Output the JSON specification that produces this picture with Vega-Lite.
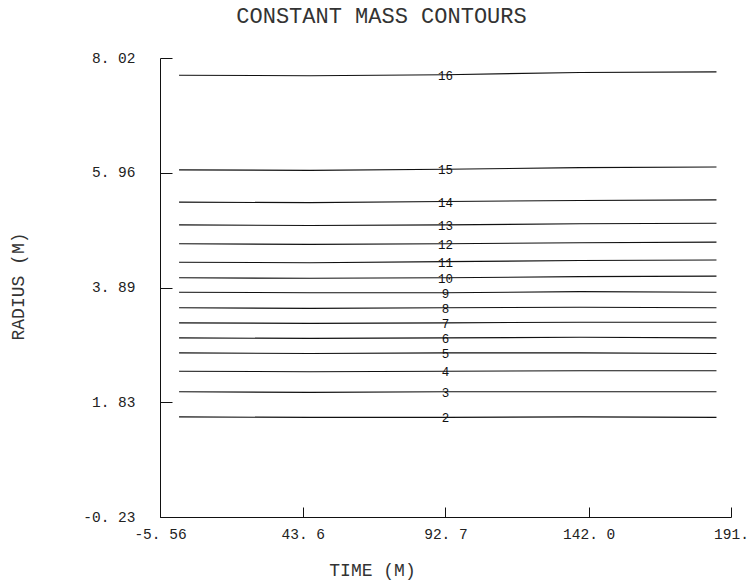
{
  "$schema": "https://vega.github.io/schema/vega-lite/v6.json",
  "autosize": "none",
  "width": 571,
  "height": 459,
  "padding": {"left": 160, "top": 58, "right": 23, "bottom": 70},
  "background": "white",
  "title": {
    "text": "CONSTANT MASS CONTOURS",
    "font": "Liberation Mono",
    "fontSize": 22,
    "fontWeight": "normal",
    "color": "#333",
    "anchor": "middle",
    "dx": -64,
    "offset": 22
  },
  "config": {
    "view": {"stroke": null},
    "axis": {
      "labelFont": "Liberation Mono",
      "labelFontSize": 14.5,
      "labelColor": "#222",
      "titleFont": "Liberation Mono",
      "titleFontSize": 18,
      "titleFontWeight": "normal",
      "titleColor": "#333",
      "domainColor": "#111",
      "tickColor": "#111",
      "grid": false
    }
  },
  "datasets": {
    "contours": [
      {"t": 1, "r": 7.71, "c": 16}, {"t": 46, "r": 7.70, "c": 16}, {"t": 92.7, "r": 7.72, "c": 16}, {"t": 139, "r": 7.76, "c": 16}, {"t": 186, "r": 7.77, "c": 16},
      {"t": 1, "r": 6.01, "c": 15}, {"t": 46, "r": 6.00, "c": 15}, {"t": 92.7, "r": 6.02, "c": 15}, {"t": 139, "r": 6.05, "c": 15}, {"t": 186, "r": 6.06, "c": 15},
      {"t": 1, "r": 5.43, "c": 14}, {"t": 46, "r": 5.42, "c": 14}, {"t": 92.7, "r": 5.44, "c": 14}, {"t": 139, "r": 5.46, "c": 14}, {"t": 186, "r": 5.47, "c": 14},
      {"t": 1, "r": 5.02, "c": 13}, {"t": 46, "r": 5.01, "c": 13}, {"t": 92.7, "r": 5.02, "c": 13}, {"t": 139, "r": 5.04, "c": 13}, {"t": 186, "r": 5.05, "c": 13},
      {"t": 1, "r": 4.68, "c": 12}, {"t": 46, "r": 4.67, "c": 12}, {"t": 92.7, "r": 4.68, "c": 12}, {"t": 139, "r": 4.70, "c": 12}, {"t": 186, "r": 4.71, "c": 12},
      {"t": 1, "r": 4.35, "c": 11}, {"t": 46, "r": 4.34, "c": 11}, {"t": 92.7, "r": 4.36, "c": 11}, {"t": 139, "r": 4.38, "c": 11}, {"t": 186, "r": 4.39, "c": 11},
      {"t": 1, "r": 4.07, "c": 10}, {"t": 46, "r": 4.06, "c": 10}, {"t": 92.7, "r": 4.07, "c": 10}, {"t": 139, "r": 4.09, "c": 10}, {"t": 186, "r": 4.10, "c": 10},
      {"t": 1, "r": 3.81, "c": 9}, {"t": 46, "r": 3.80, "c": 9}, {"t": 92.7, "r": 3.80, "c": 9}, {"t": 139, "r": 3.82, "c": 9}, {"t": 186, "r": 3.81, "c": 9},
      {"t": 1, "r": 3.53, "c": 8}, {"t": 46, "r": 3.52, "c": 8}, {"t": 92.7, "r": 3.53, "c": 8}, {"t": 139, "r": 3.54, "c": 8}, {"t": 186, "r": 3.53, "c": 8},
      {"t": 1, "r": 3.26, "c": 7}, {"t": 46, "r": 3.25, "c": 7}, {"t": 92.7, "r": 3.26, "c": 7}, {"t": 139, "r": 3.27, "c": 7}, {"t": 186, "r": 3.27, "c": 7},
      {"t": 1, "r": 2.99, "c": 6}, {"t": 46, "r": 2.98, "c": 6}, {"t": 92.7, "r": 2.99, "c": 6}, {"t": 139, "r": 3.00, "c": 6}, {"t": 186, "r": 2.99, "c": 6},
      {"t": 1, "r": 2.72, "c": 5}, {"t": 46, "r": 2.71, "c": 5}, {"t": 92.7, "r": 2.72, "c": 5}, {"t": 139, "r": 2.72, "c": 5}, {"t": 186, "r": 2.71, "c": 5},
      {"t": 1, "r": 2.39, "c": 4}, {"t": 46, "r": 2.38, "c": 4}, {"t": 92.7, "r": 2.39, "c": 4}, {"t": 139, "r": 2.40, "c": 4}, {"t": 186, "r": 2.40, "c": 4},
      {"t": 1, "r": 2.02, "c": 3}, {"t": 46, "r": 2.01, "c": 3}, {"t": 92.7, "r": 2.02, "c": 3}, {"t": 139, "r": 2.02, "c": 3}, {"t": 186, "r": 2.02, "c": 3},
      {"t": 1, "r": 1.57, "c": 2}, {"t": 46, "r": 1.56, "c": 2}, {"t": 92.7, "r": 1.56, "c": 2}, {"t": 139, "r": 1.57, "c": 2}, {"t": 186, "r": 1.56, "c": 2}
    ]
  },
  "data": {"name": "contours"},
  "encoding": {
    "x": {
      "field": "t",
      "type": "quantitative",
      "scale": {"domain": [-5.56, 191], "nice": false, "zero": false},
      "axis": {
        "title": "TIME (M)",
        "values": [-5.56, 43.6, 92.7, 142.0, 191],
        "labelExpr": "datum.value < 0 ? '-5. 56' : datum.value < 50 ? '43. 6' : datum.value < 100 ? '92. 7' : datum.value < 150 ? '142. 0' : '191.'",
        "tickSize": -10,
        "labelPadding": 20,
        "labelFlush": false,
        "labelOverlap": false,
        "titleX": 212,
        "titleY": 53,
        "titleBaseline": "middle",
        "titleAnchor": null
      }
    },
    "y": {
      "field": "r",
      "type": "quantitative",
      "scale": {"domain": [-0.23, 8.02], "nice": false, "zero": false},
      "axis": {
        "title": "RADIUS (M)",
        "values": [-0.23, 1.83, 3.89, 5.96, 8.02],
        "labelExpr": "datum.value < 0 ? '-0. 23' : datum.value < 2 ? '1. 83' : datum.value < 4 ? '3. 89' : datum.value < 6 ? '5. 96' : '8. 02'",
        "tickSize": -12,
        "labelPadding": 37,
        "labelFlush": false,
        "labelOverlap": false,
        "titleX": -142,
        "titleY": 228,
        "titleAngle": -90,
        "titleAlign": "center",
        "titleBaseline": "middle",
        "titleAnchor": null
      }
    }
  },
  "layer": [
    {
      "mark": {"type": "line", "color": "#111", "strokeWidth": 1.1, "interpolate": "linear"},
      "encoding": {"detail": {"field": "c", "type": "nominal"}}
    },
    {
      "transform": [{"filter": "datum.t == 92.7"}],
      "mark": {"type": "text", "font": "Liberation Mono", "fontSize": 12.5, "color": "#111", "align": "center", "baseline": "middle", "dy": 1},
      "encoding": {"text": {"field": "c", "type": "nominal"}}
    }
  ]
}
